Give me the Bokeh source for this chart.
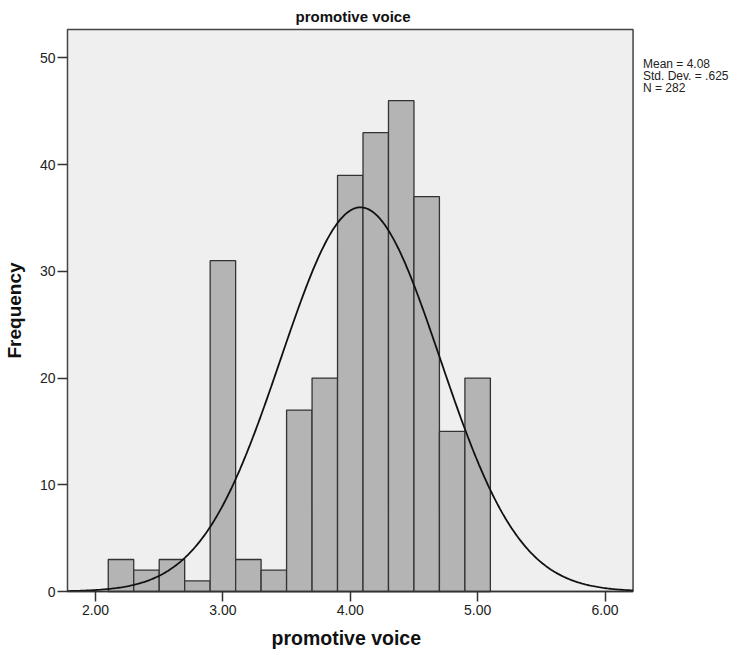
import math
from bokeh.plotting import figure
from bokeh.models import Range1d, FixedTicker, ColumnDataSource, Title
from bokeh.core.properties import value
from bokeh.embed import file_html
from bokeh.resources import INLINE

# ---- data ----
bin_left = [2.1, 2.3, 2.5, 2.7, 2.9, 3.1, 3.3, 3.5, 3.7, 3.9, 4.1, 4.3, 4.5, 4.7, 4.9]
bin_right = [2.3, 2.5, 2.7, 2.9, 3.1, 3.3, 3.5, 3.7, 3.9, 4.1, 4.3, 4.5, 4.7, 4.9, 5.1]
counts = [3, 2, 3, 1, 31, 3, 2, 17, 20, 39, 43, 46, 37, 15, 20]
mean = 4.08
std_dev = 0.625
n_obs = 282
bin_width = 0.2
x_ticks = [2, 3, 4, 5, 6]
y_ticks = [0, 10, 20, 30, 40, 50]
stats_lines = ["Mean = 4.08", "Std. Dev. = .625", "N = 282"]
title_text = "promotive voice"
x_label = "promotive voice"
y_label = "Frequency"

# visible plot box (data units)
BOX_X0, BOX_X1 = 1.78, 6.22
BOX_Y0, BOX_Y1 = 0, 52.67

PX_X = 127.75   # px per x unit
PX_Y = 10.74    # px per y unit
FRAME_L, FRAME_T, FRAME_B = 63, 27, 597
W, H = 747, 655

x0 = BOX_X0 - 2 / PX_X
x1 = x0 + (W - FRAME_L) / PX_X
y0 = BOX_Y0 - 2 / PX_Y
y1 = BOX_Y1 + 2 / PX_Y

p = figure(width=W, height=H, output_backend="svg", toolbar_location=None,
           x_range=Range1d(x0, x1), y_range=Range1d(y0, y1),
           min_border_left=FRAME_L, min_border_right=0, min_border_top=FRAME_T,
           min_border_bottom=H - FRAME_B)

p.background_fill_color = "white"
p.border_fill_color = "white"
p.outline_line_color = None
p.xgrid.visible = False
p.ygrid.visible = False

# plot box background with border
p.quad(left=[BOX_X0], right=[BOX_X1], bottom=[BOX_Y0], top=[BOX_Y1],
       fill_color="#efefef", line_color="#444444", line_width=1.5)

# bars
src = ColumnDataSource(dict(left=bin_left, right=bin_right, top=counts, bottom=[0] * len(counts)))
p.quad(left="left", right="right", top="top", bottom="bottom", source=src,
       fill_color="#b4b4b4", line_color="#333333", line_width=1.3)

# normal curve from mean / sd / N shown on the chart
xs = [BOX_X0 + (BOX_X1 - BOX_X0) * i / 400 for i in range(401)]
ys = [n_obs * bin_width / (std_dev * math.sqrt(2 * math.pi)) *
      math.exp(-0.5 * ((x - mean) / std_dev) ** 2) for x in xs]
p.line(xs, ys, line_color="#111111", line_width=1.8)

# redraw bottom edge on top of the bars
p.line([BOX_X0, BOX_X1], [BOX_Y0, BOX_Y0], line_color="#333333", line_width=1.5)

# stats text
p.text(x=[6.298] * 3, y=[49.40, 48.28, 47.16], text=stats_lines,
       text_font=value("Liberation Sans"), text_font_size="12px",
       text_baseline="middle", text_align="left", text_color="#222222")

# axes
for ax in (p.xaxis[0], p.yaxis[0]):
    ax.axis_line_color = None
    ax.major_tick_line_color = "#333333"
    ax.major_tick_line_width = 1.5
    ax.major_tick_in = 2
    ax.minor_tick_line_color = None
    ax.major_label_text_font = "Liberation Sans"
    ax.major_label_text_font_size = "14px"
    ax.major_label_text_color = "#222222"
    ax.axis_label_text_font = "Liberation Sans"
    ax.axis_label_text_font_style = "bold"
    ax.axis_label_text_font_size = "19px"
    ax.axis_label_text_color = "#111111"

p.xaxis.ticker = FixedTicker(ticks=x_ticks)
p.xaxis.major_label_overrides = {t: f"{t:.2f}" for t in x_ticks}
p.xaxis.major_tick_out = 8
p.xaxis.major_label_standoff = 3

p.yaxis.ticker = FixedTicker(ticks=y_ticks)
p.yaxis.major_tick_out = 8
p.yaxis.major_label_standoff = 2
p.yaxis.axis_label = y_label
p.yaxis.axis_label_standoff = 12

# top title, positioned over the plot box (left aligned + offset)
top_title = Title(text=title_text, align="left", offset=230, standoff=6,
                  text_font="Liberation Sans", text_font_style="bold",
                  text_font_size="15px", text_color="#111111")
p.add_layout(top_title, "above")

# x-axis label as a bottom title
bottom_title = Title(text=x_label, align="left", offset=206, standoff=14,
                     text_font="Liberation Sans", text_font_style="bold",
                     text_font_size="19.5px", text_color="#111111")
p.add_layout(bottom_title, "below")

html = file_html(p, INLINE)
open("out.html", "w").write(html)
